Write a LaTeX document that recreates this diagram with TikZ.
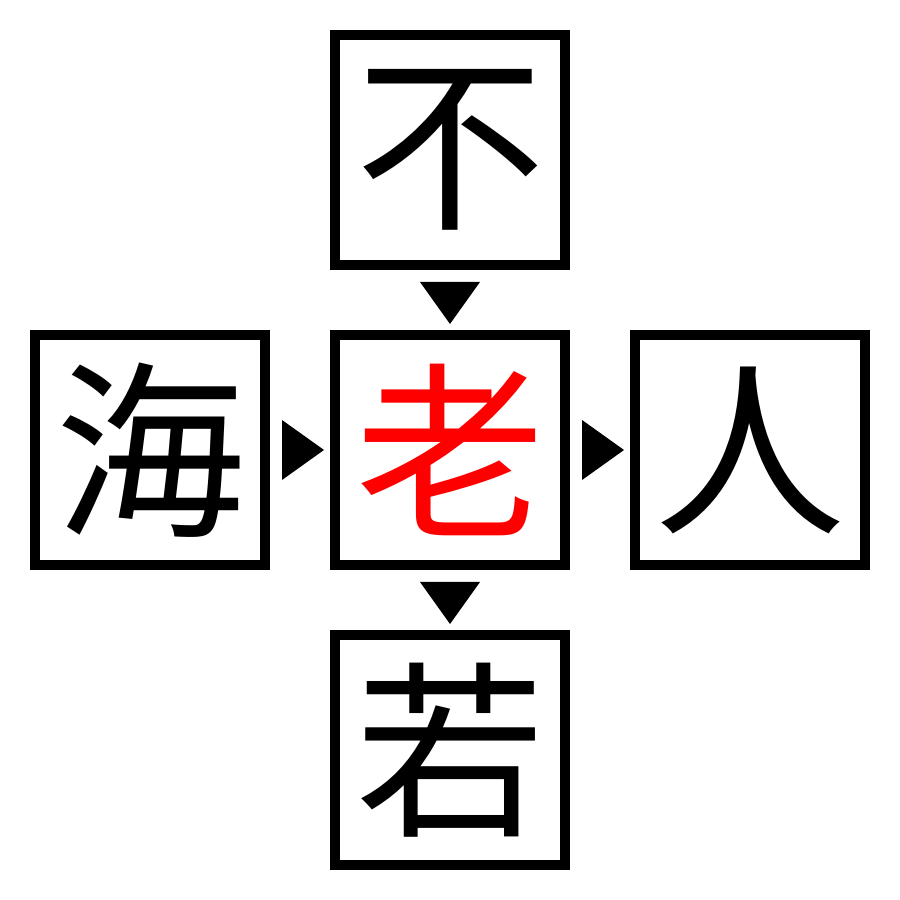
\documentclass[tikz,border=0pt]{standalone}
\usepackage{fontspec}
\newfontfamily\cjk{Noto Sans CJK JP}
\usetikzlibrary{positioning,calc}
\begin{document}
\begin{tikzpicture}[
    charbox/.style={draw,line width=0.1cm,minimum size=2.3cm,inner sep=0pt,
        font=\cjk\fontsize{54pt}{54pt}\selectfont},
    node distance=0.6cm]
\useasboundingbox (0,0) rectangle (9,9);
\node[charbox,text=red] (mid) at (4.5,4.5) {老};
\node[charbox,above=of mid] (up) {不};
\node[charbox,below=of mid] (down) {若};
\node[charbox,left=of mid] (left) {海};
\node[charbox,right=of mid] (right) {人};

% Pfeilspitzen zwischen den Kaesten
\foreach \a/\b in {up/mid,mid/down,left/mid,mid/right} {
    \coordinate (base) at ($(\a)!1.32cm!(\b)$);
    \fill ($(base)!0.3cm!90:(\b)$) -- ($(base)!0.3cm!-90:(\b)$)
        -- ($(\a)!1.74cm!(\b)$) -- cycle;
}
\end{tikzpicture}
\end{document}
